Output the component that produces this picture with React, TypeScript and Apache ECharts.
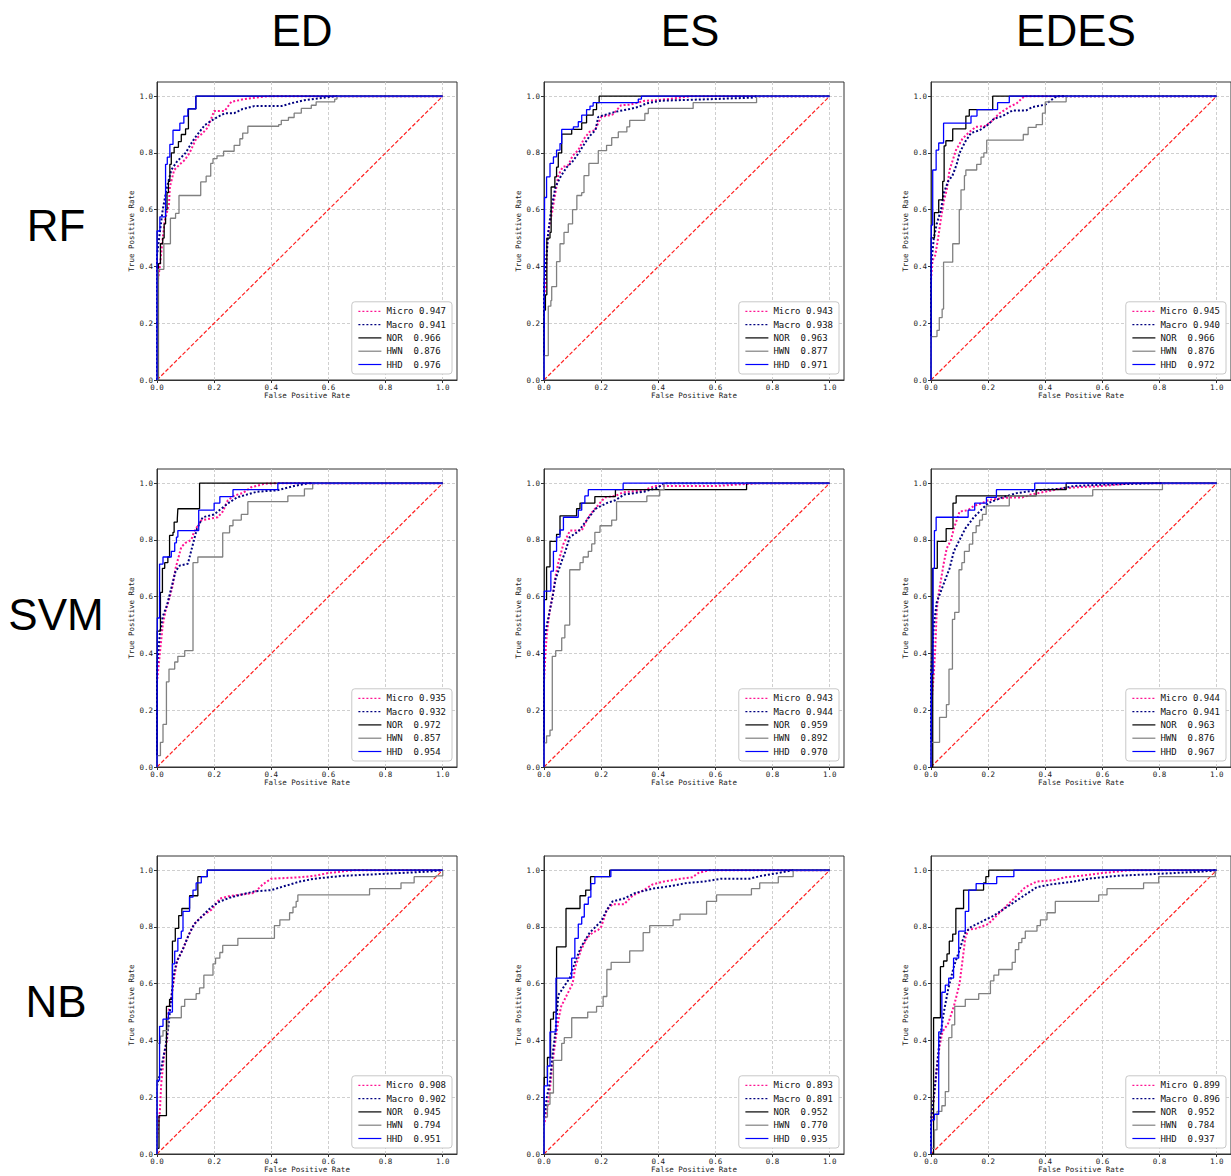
import React, { useEffect, useRef } from "react";
import * as echarts from "echarts";

// ---------- labels ----------
const COLS = ["ED", "ES", "EDES"];
const ROWS = ["RF", "SVM", "NB"];
const CLASSES = ["Micro", "Macro", "NOR", "HWN", "HHD"];
const TICKS = [0, 0.2, 0.4, 0.6, 0.8, 1.0];
const DIAG = [[0, 0], [1, 1]];

// ---------- AUC values (Micro, Macro, NOR, HWN, HHD) ----------
const AUC_RF_ED = [0.947, 0.941, 0.966, 0.876, 0.976];
const AUC_RF_ES = [0.943, 0.938, 0.963, 0.877, 0.971];
const AUC_RF_EDES = [0.945, 0.940, 0.966, 0.876, 0.972];
const AUC_SVM_ED = [0.935, 0.932, 0.972, 0.857, 0.954];
const AUC_SVM_ES = [0.943, 0.944, 0.959, 0.892, 0.970];
const AUC_SVM_EDES = [0.944, 0.941, 0.963, 0.876, 0.967];
const AUC_NB_ED = [0.908, 0.902, 0.945, 0.794, 0.951];
const AUC_NB_ES = [0.893, 0.891, 0.952, 0.770, 0.935];
const AUC_NB_EDES = [0.899, 0.896, 0.952, 0.784, 0.937];

// ---------- ROC curves: [FPR, TPR] ----------
// RF - ED
const RF_ED_MICRO = [[0,0],[0,0.33],[0.01,0.4],[0.02,0.5],[0.027,0.56],[0.042,0.62],[0.045,0.68],[0.06,0.74],[0.08,0.76],[0.097,0.775],[0.114,0.8],[0.137,0.85],[0.16,0.87],[0.178,0.89],[0.2,0.948],[0.237,0.948],[0.26,0.98],[0.306,0.99],[0.39,1],[1,1]];
const RF_ED_MACRO = [[0,0],[0,0.44],[0.01,0.52],[0.02,0.6],[0.035,0.68],[0.05,0.74],[0.07,0.77],[0.1,0.8],[0.13,0.85],[0.167,0.898],[0.2,0.92],[0.237,0.94],[0.27,0.94],[0.3,0.955],[0.34,0.965],[0.435,0.965],[0.47,0.975],[0.516,0.986],[0.61,0.998],[0.63,1],[1,1]];
const RF_ED_NOR = [[0,0],[0.005,0.41],[0.012,0.48],[0.02,0.5],[0.025,0.55],[0.03,0.6],[0.035,0.66],[0.04,0.7],[0.045,0.76],[0.05,0.8],[0.06,0.82],[0.075,0.84],[0.085,0.865],[0.1,0.885],[0.11,0.955],[0.136,1],[1,1]];
const RF_ED_HWN = [[0,0],[0.004,0.39],[0.024,0.48],[0.047,0.57],[0.065,0.587],[0.077,0.65],[0.153,0.698],[0.172,0.718],[0.188,0.763],[0.196,0.78],[0.21,0.79],[0.233,0.806],[0.27,0.827],[0.29,0.85],[0.3,0.87],[0.318,0.894],[0.426,0.9],[0.435,0.915],[0.46,0.925],[0.48,0.94],[0.505,0.957],[0.54,0.968],[0.557,0.98],[0.622,0.99],[0.63,1],[1,1]];
const RF_ED_HHD = [[0,0],[0,0.525],[0.01,0.575],[0.03,0.76],[0.036,0.785],[0.045,0.83],[0.056,0.88],[0.08,0.905],[0.094,0.93],[0.108,0.955],[0.136,1],[1,1]];
// RF - ES
const RF_ES_MICRO = [[0,0],[0,0.28],[0.005,0.33],[0.012,0.5],[0.02,0.55],[0.03,0.6],[0.04,0.66],[0.05,0.72],[0.065,0.75],[0.085,0.757],[0.1,0.79],[0.12,0.81],[0.14,0.85],[0.16,0.875],[0.178,0.88],[0.2,0.927],[0.24,0.935],[0.27,0.968],[0.3,0.97],[0.353,0.984],[0.4,0.986],[0.516,1],[1,1]];
const RF_ES_MACRO = [[0,0],[0,0.33],[0.01,0.45],[0.015,0.52],[0.025,0.6],[0.04,0.68],[0.06,0.72],[0.08,0.75],[0.1,0.77],[0.12,0.798],[0.14,0.83],[0.16,0.86],[0.18,0.88],[0.19,0.927],[0.25,0.945],[0.3,0.955],[0.33,0.962],[0.36,0.975],[0.41,0.984],[0.6,0.99],[0.73,0.995],[0.744,1],[1,1]];
const RF_ES_NOR = [[0,0],[0,0.246],[0.005,0.3],[0.01,0.5],[0.021,0.52],[0.025,0.68],[0.038,0.716],[0.044,0.75],[0.05,0.8],[0.062,0.866],[0.097,0.883],[0.132,0.906],[0.149,0.933],[0.172,0.953],[0.184,0.977],[0.193,1],[1,1]];
const RF_ES_HWN = [[0,0],[0.001,0.086],[0.015,0.26],[0.024,0.28],[0.027,0.329],[0.044,0.417],[0.056,0.48],[0.07,0.52],[0.085,0.55],[0.1,0.6],[0.115,0.65],[0.132,0.66],[0.14,0.72],[0.157,0.763],[0.19,0.808],[0.219,0.827],[0.237,0.854],[0.26,0.874],[0.29,0.892],[0.3,0.915],[0.353,0.939],[0.365,0.957],[0.522,0.977],[0.744,1],[1,1]];
const RF_ES_HHD = [[0,0],[0.002,0.643],[0.009,0.716],[0.021,0.763],[0.033,0.786],[0.044,0.81],[0.056,0.833],[0.062,0.883],[0.103,0.892],[0.12,0.91],[0.132,0.933],[0.149,0.953],[0.161,0.965],[0.172,0.977],[0.318,0.977],[0.33,0.99],[0.341,1],[1,1]];
// RF - EDES
const RF_EDES_MICRO = [[0,0],[0,0.35],[0.005,0.42],[0.015,0.44],[0.025,0.5],[0.035,0.57],[0.045,0.63],[0.055,0.67],[0.065,0.74],[0.0875,0.81],[0.11,0.85],[0.13,0.87],[0.157,0.892],[0.19,0.895],[0.21,0.91],[0.239,0.939],[0.274,0.962],[0.3,0.975],[0.327,1],[1,1]];
const RF_EDES_MACRO = [[0,0],[0,0.4],[0.01,0.5],[0.02,0.55],[0.035,0.6],[0.045,0.66],[0.06,0.7],[0.075,0.72],[0.09,0.76],[0.1,0.8],[0.12,0.84],[0.14,0.87],[0.17,0.88],[0.2,0.9],[0.22,0.92],[0.25,0.93],[0.286,0.95],[0.333,0.95],[0.356,0.962],[0.4,0.97],[0.42,0.986],[0.44,1],[1,1]];
const RF_EDES_NOR = [[0,0],[0.001,0.501],[0.012,0.59],[0.027,0.635],[0.041,0.7],[0.046,0.825],[0.052,0.843],[0.076,0.885],[0.122,0.93],[0.134,0.953],[0.216,1],[1,1]];
const RF_EDES_HWN = [[0,0],[0,0.153],[0.021,0.175],[0.029,0.22],[0.039,0.25],[0.044,0.415],[0.076,0.48],[0.099,0.6],[0.105,0.67],[0.117,0.72],[0.122,0.74],[0.16,0.76],[0.175,0.785],[0.185,0.8],[0.195,0.845],[0.323,0.865],[0.34,0.89],[0.368,0.9],[0.39,0.94],[0.4,0.98],[0.473,1],[1,1]];
const RF_EDES_HHD = [[0,0],[0.001,0.546],[0.006,0.74],[0.018,0.81],[0.027,0.835],[0.044,0.905],[0.14,0.93],[0.161,0.953],[0.233,0.977],[0.274,1],[1,1]];
// SVM - ED
const SVM_ED_MICRO = [[0,0],[0,0.3],[0.01,0.4],[0.02,0.5],[0.03,0.55],[0.045,0.6],[0.055,0.64],[0.065,0.7],[0.085,0.775],[0.1,0.79],[0.12,0.8],[0.13,0.83],[0.155,0.869],[0.213,0.88],[0.23,0.9],[0.248,0.94],[0.272,0.957],[0.3,0.965],[0.33,0.986],[0.376,0.998],[0.42,1],[1,1]];
const SVM_ED_MACRO = [[0,0],[0,0.35],[0.01,0.47],[0.02,0.53],[0.035,0.57],[0.05,0.63],[0.065,0.69],[0.08,0.71],[0.108,0.716],[0.12,0.763],[0.14,0.84],[0.16,0.88],[0.2,0.89],[0.25,0.93],[0.28,0.95],[0.35,0.97],[0.42,0.975],[0.48,0.99],[0.53,1],[1,1]];
const SVM_ED_NOR = [[0,0],[0.001,0.479],[0.012,0.615],[0.019,0.7],[0.027,0.72],[0.038,0.74],[0.044,0.816],[0.056,0.827],[0.06,0.863],[0.071,0.874],[0.073,0.91],[0.149,1],[1,1]];
const SVM_ED_HWN = [[0,0],[0,0.04],[0.012,0.087],[0.021,0.15],[0.033,0.3],[0.042,0.345],[0.062,0.37],[0.073,0.39],[0.097,0.41],[0.126,0.72],[0.143,0.74],[0.23,0.825],[0.254,0.85],[0.266,0.87],[0.295,0.89],[0.318,0.935],[0.458,0.955],[0.516,0.98],[0.545,1],[1,1]];
const SVM_ED_HHD = [[0,0],[0.001,0.525],[0.009,0.715],[0.021,0.74],[0.05,0.76],[0.062,0.79],[0.068,0.81],[0.073,0.833],[0.146,0.905],[0.2,0.93],[0.22,0.953],[0.266,0.977],[0.423,1],[1,1]];
// SVM - ES
const SVM_ES_MICRO = [[0,0],[0,0.3],[0.005,0.4],[0.01,0.47],[0.02,0.55],[0.03,0.6],[0.04,0.67],[0.05,0.72],[0.068,0.786],[0.091,0.833],[0.132,0.833],[0.155,0.88],[0.17,0.9],[0.213,0.95],[0.25,0.955],[0.277,0.968],[0.35,0.975],[0.388,0.99],[0.6,0.99],[0.75,1],[1,1]];
const SVM_ES_MACRO = [[0,0],[0,0.44],[0.01,0.5],[0.02,0.55],[0.03,0.6],[0.04,0.66],[0.06,0.72],[0.075,0.76],[0.09,0.81],[0.12,0.83],[0.15,0.87],[0.18,0.91],[0.22,0.93],[0.25,0.94],[0.28,0.96],[0.35,0.97],[0.4,0.985],[0.42,1],[1,1]];
const SVM_ES_NOR = [[0,0],[0.001,0.59],[0.009,0.705],[0.021,0.795],[0.044,0.82],[0.056,0.885],[0.114,0.91],[0.126,0.93],[0.178,0.953],[0.25,0.977],[0.709,1],[1,1]];
const SVM_ES_HWN = [[0,0],[0.001,0.085],[0.009,0.11],[0.021,0.13],[0.029,0.39],[0.041,0.41],[0.062,0.455],[0.073,0.5],[0.09,0.695],[0.126,0.72],[0.137,0.74],[0.155,0.76],[0.167,0.786],[0.178,0.827],[0.196,0.85],[0.237,0.87],[0.254,0.935],[0.36,0.955],[0.405,0.977],[0.42,1],[1,1]];
const SVM_ES_HHD = [[0,0],[0.001,0.62],[0.024,0.69],[0.033,0.76],[0.044,0.81],[0.056,0.835],[0.068,0.88],[0.12,0.905],[0.132,0.93],[0.143,0.955],[0.155,0.977],[0.277,1],[1,1]];
// SVM - EDES
const SVM_EDES_MICRO = [[0,0],[0,0.2],[0.01,0.33],[0.015,0.42],[0.02,0.55],[0.025,0.6],[0.035,0.66],[0.045,0.72],[0.055,0.77],[0.07,0.8],[0.08,0.84],[0.1,0.9],[0.13,0.905],[0.15,0.92],[0.18,0.93],[0.2,0.94],[0.23,0.945],[0.28,0.95],[0.32,0.95],[0.35,0.96],[0.4,0.97],[0.45,0.98],[0.5,0.985],[0.6,0.99],[0.7,1],[1,1]];
const SVM_EDES_MACRO = [[0,0],[0,0.33],[0.01,0.5],[0.02,0.58],[0.035,0.62],[0.05,0.66],[0.065,0.7],[0.08,0.76],[0.1,0.8],[0.12,0.84],[0.15,0.88],[0.18,0.91],[0.2,0.93],[0.25,0.95],[0.3,0.965],[0.37,0.975],[0.45,0.98],[0.5,0.99],[0.6,0.995],[0.8,1],[1,1]];
const SVM_EDES_NOR = [[0,0],[0.006,0.7],[0.022,0.795],[0.053,0.84],[0.077,0.93],[0.088,0.955],[0.368,0.977],[0.473,1],[1,1]];
const SVM_EDES_HWN = [[0,0],[0,0.087],[0.03,0.175],[0.054,0.22],[0.063,0.345],[0.075,0.52],[0.083,0.545],[0.098,0.695],[0.108,0.72],[0.117,0.76],[0.134,0.785],[0.146,0.826],[0.158,0.85],[0.17,0.87],[0.18,0.89],[0.193,0.92],[0.274,0.955],[0.566,0.977],[0.81,1],[1,1]];
const SVM_EDES_HHD = [[0,0],[0.002,0.33],[0.007,0.7],[0.012,0.833],[0.018,0.88],[0.13,0.905],[0.153,0.93],[0.194,0.95],[0.229,0.977],[0.363,1],[1,1]];
// NB - ED
const NB_ED_MICRO = [[0,0],[0,0.05],[0.01,0.15],[0.015,0.25],[0.025,0.35],[0.035,0.4],[0.04,0.5],[0.05,0.55],[0.06,0.62],[0.07,0.68],[0.09,0.72],[0.11,0.77],[0.13,0.81],[0.16,0.84],[0.19,0.86],[0.22,0.9],[0.26,0.91],[0.3,0.915],[0.34,0.92],[0.37,0.95],[0.4,0.97],[0.5,0.975],[0.55,0.98],[0.6,0.99],[0.69,1],[1,1]];
const NB_ED_MACRO = [[0,0],[0,0.24],[0.01,0.28],[0.02,0.33],[0.03,0.38],[0.04,0.45],[0.05,0.55],[0.06,0.64],[0.07,0.68],[0.09,0.72],[0.11,0.77],[0.13,0.81],[0.16,0.84],[0.19,0.87],[0.22,0.89],[0.26,0.905],[0.3,0.915],[0.34,0.925],[0.4,0.93],[0.45,0.945],[0.5,0.96],[0.55,0.97],[0.65,0.98],[0.75,0.985],[0.85,0.99],[0.95,0.995],[1,1]];
const NB_ED_NOR = [[0,0],[0,0.02],[0.007,0.135],[0.033,0.52],[0.044,0.545],[0.054,0.75],[0.064,0.795],[0.076,0.84],[0.087,0.865],[0.114,0.91],[0.143,0.977],[0.176,1],[1,1]];
const NB_ED_HWN = [[0,0],[0,0.39],[0.012,0.415],[0.021,0.435],[0.038,0.48],[0.085,0.52],[0.097,0.545],[0.137,0.565],[0.149,0.585],[0.164,0.63],[0.196,0.67],[0.205,0.69],[0.22,0.71],[0.23,0.735],[0.283,0.76],[0.411,0.805],[0.43,0.825],[0.464,0.85],[0.476,0.87],[0.487,0.89],[0.493,0.913],[0.744,0.935],[0.854,0.955],[0.9,0.977],[0.977,0.98],[1,1]];
const NB_ED_HHD = [[0,0],[0,0.26],[0.009,0.45],[0.021,0.475],[0.04,0.5],[0.054,0.67],[0.062,0.715],[0.073,0.76],[0.085,0.785],[0.091,0.855],[0.114,0.905],[0.126,0.93],[0.137,0.955],[0.155,0.977],[0.176,1],[1,1]];
// NB - ES
const NB_ES_MICRO = [[0,0],[0,0.1],[0.01,0.15],[0.02,0.22],[0.03,0.32],[0.04,0.4],[0.05,0.47],[0.06,0.52],[0.08,0.56],[0.1,0.6],[0.11,0.66],[0.13,0.72],[0.15,0.76],[0.17,0.78],[0.19,0.79],[0.2,0.8],[0.22,0.86],[0.24,0.88],[0.28,0.88],[0.31,0.91],[0.35,0.93],[0.38,0.95],[0.42,0.96],[0.48,0.97],[0.52,0.975],[0.54,0.99],[0.58,1],[1,1]];
const NB_ES_MACRO = [[0,0],[0,0.12],[0.01,0.2],[0.02,0.25],[0.03,0.35],[0.04,0.43],[0.05,0.56],[0.07,0.59],[0.09,0.62],[0.11,0.68],[0.13,0.73],[0.16,0.78],[0.2,0.82],[0.22,0.86],[0.24,0.89],[0.28,0.9],[0.32,0.92],[0.38,0.935],[0.45,0.945],[0.5,0.955],[0.56,0.96],[0.62,0.97],[0.72,0.97],[0.76,0.98],[0.82,0.99],[0.87,1],[1,1]];
const NB_ES_NOR = [[0,0],[0.001,0.27],[0.012,0.34],[0.023,0.475],[0.033,0.5],[0.044,0.73],[0.077,0.865],[0.126,0.91],[0.146,0.93],[0.163,0.977],[0.23,1],[1,1]];
const NB_ES_HWN = [[0,0],[0.001,0.13],[0.012,0.175],[0.021,0.215],[0.033,0.33],[0.062,0.39],[0.071,0.41],[0.097,0.48],[0.153,0.5],[0.184,0.52],[0.207,0.555],[0.22,0.65],[0.235,0.675],[0.3,0.716],[0.347,0.78],[0.37,0.805],[0.452,0.825],[0.476,0.845],[0.569,0.89],[0.604,0.913],[0.726,0.935],[0.755,0.955],[0.82,0.977],[0.872,1],[1,1]];
const NB_ES_HHD = [[0,0],[0.001,0.24],[0.012,0.31],[0.021,0.43],[0.042,0.62],[0.097,0.69],[0.108,0.76],[0.12,0.81],[0.132,0.835],[0.141,0.88],[0.155,0.905],[0.164,0.953],[0.178,0.977],[0.234,1],[1,1]];
// NB - EDES
const NB_EDES_MICRO = [[0,0],[0,0.1],[0.01,0.2],[0.02,0.3],[0.03,0.38],[0.04,0.43],[0.06,0.46],[0.08,0.52],[0.1,0.6],[0.11,0.68],[0.12,0.76],[0.13,0.79],[0.16,0.795],[0.2,0.81],[0.22,0.83],[0.25,0.86],[0.28,0.89],[0.31,0.92],[0.33,0.94],[0.37,0.96],[0.43,0.965],[0.47,0.975],[0.52,0.98],[0.6,0.99],[0.7,1],[1,1]];
const NB_EDES_MACRO = [[0,0],[0,0.12],[0.01,0.2],[0.02,0.3],[0.03,0.4],[0.045,0.5],[0.06,0.58],[0.08,0.66],[0.1,0.72],[0.12,0.78],[0.14,0.8],[0.18,0.82],[0.22,0.84],[0.25,0.86],[0.28,0.88],[0.31,0.9],[0.34,0.92],[0.37,0.94],[0.42,0.95],[0.5,0.96],[0.55,0.97],[0.65,0.98],[0.75,0.985],[0.85,0.99],[0.95,0.995],[1,1]];
const NB_EDES_NOR = [[0,0],[0.009,0.48],[0.033,0.66],[0.044,0.68],[0.056,0.705],[0.064,0.75],[0.076,0.775],[0.087,0.865],[0.114,0.93],[0.184,0.955],[0.192,0.977],[0.202,1],[1,1]];
const NB_EDES_HWN = [[0,0],[0,0.02],[0.012,0.085],[0.021,0.15],[0.038,0.17],[0.05,0.22],[0.062,0.41],[0.073,0.455],[0.083,0.52],[0.12,0.545],[0.167,0.565],[0.208,0.61],[0.22,0.63],[0.237,0.65],[0.284,0.675],[0.295,0.72],[0.307,0.745],[0.318,0.76],[0.33,0.785],[0.371,0.805],[0.383,0.825],[0.406,0.85],[0.435,0.89],[0.587,0.913],[0.616,0.935],[0.744,0.955],[0.797,0.977],[0.995,1],[1,1]];
const NB_EDES_HHD = [[0,0],[0.001,0.12],[0.012,0.14],[0.027,0.43],[0.038,0.57],[0.05,0.595],[0.062,0.62],[0.079,0.69],[0.097,0.785],[0.12,0.855],[0.132,0.93],[0.158,0.953],[0.23,0.977],[0.29,1],[1,1]];

const PANELS = [
  { auc: AUC_RF_ED, curves: [RF_ED_MICRO, RF_ED_MACRO, RF_ED_NOR, RF_ED_HWN, RF_ED_HHD] },
  { auc: AUC_RF_ES, curves: [RF_ES_MICRO, RF_ES_MACRO, RF_ES_NOR, RF_ES_HWN, RF_ES_HHD] },
  { auc: AUC_RF_EDES, curves: [RF_EDES_MICRO, RF_EDES_MACRO, RF_EDES_NOR, RF_EDES_HWN, RF_EDES_HHD] },
  { auc: AUC_SVM_ED, curves: [SVM_ED_MICRO, SVM_ED_MACRO, SVM_ED_NOR, SVM_ED_HWN, SVM_ED_HHD] },
  { auc: AUC_SVM_ES, curves: [SVM_ES_MICRO, SVM_ES_MACRO, SVM_ES_NOR, SVM_ES_HWN, SVM_ES_HHD] },
  { auc: AUC_SVM_EDES, curves: [SVM_EDES_MICRO, SVM_EDES_MACRO, SVM_EDES_NOR, SVM_EDES_HWN, SVM_EDES_HHD] },
  { auc: AUC_NB_ED, curves: [NB_ED_MICRO, NB_ED_MACRO, NB_ED_NOR, NB_ED_HWN, NB_ED_HHD] },
  { auc: AUC_NB_ES, curves: [NB_ES_MICRO, NB_ES_MACRO, NB_ES_NOR, NB_ES_HWN, NB_ES_HHD] },
  { auc: AUC_NB_EDES, curves: [NB_EDES_MICRO, NB_EDES_MACRO, NB_EDES_NOR, NB_EDES_HWN, NB_EDES_HHD] },
];

// ---------- styles ----------
const W = 1231;
const H = 1176;
const GRID_LEFT0 = 157;
const GRID_TOP0 = 82;
const STEP = 387;
const GRID_W = 300;
const GRID_H = 298;
const MONO = "'DejaVu Sans Mono', 'Liberation Mono', monospace";
const SANS = "'Liberation Sans', Arial, sans-serif";
const CLASS_STYLE = [
  { color: "#ff1493", width: 2, type: [2, 2] },
  { color: "#000080", width: 2, type: [2, 2] },
  { color: "#000000", width: 1.3, type: "solid" },
  { color: "#808080", width: 1.3, type: "solid" },
  { color: "#0000ff", width: 1.3, type: "solid" },
];
const CHAR_W = 5.42;

function makeLabel(cls: string, auc: number) {
  return cls + (cls.length === 5 ? " " : "  ") + auc.toFixed(3);
}

export default function App() {
  const ref = useRef<HTMLDivElement>(null);

  useEffect(() => {
    if (!ref.current) return;
    const chart = echarts.init(ref.current, null, { renderer: "svg", width: W, height: H });

    const grids: any[] = [];
    const xAxes: any[] = [];
    const yAxes: any[] = [];
    const series: any[] = [];
    const legends: any[] = [];

    const axisCommon = {
      type: "value",
      min: 0,
      max: 1.05,
      interval: 0.2,
      nameLocation: "middle",
      nameTextStyle: { fontSize: 7.5, fontFamily: MONO, color: "#222" },
      axisLine: { show: true, lineStyle: { color: "#333", width: 1 } },
      axisTick: { show: true, length: 3, inside: false, customValues: TICKS, lineStyle: { color: "#333" } },
      splitLine: { show: true, lineStyle: { color: "#cfcfcf", width: 1, type: [3, 2] } },
    };

    PANELS.forEach((p, i) => {
      const r = Math.floor(i / 3);
      const c = i % 3;
      const left = GRID_LEFT0 + c * STEP;
      const top = GRID_TOP0 + r * STEP;
      grids.push({
        left,
        top,
        width: GRID_W,
        height: GRID_H,
        show: true,
        borderColor: "#333",
        borderWidth: 1,
        backgroundColor: "rgba(0,0,0,0)",
      });
      xAxes.push({
        ...axisCommon,
        gridIndex: i,
        name: "False Positive Rate",
        nameGap: 11,
        axisLabel: {
          customValues: TICKS,
          formatter: (v: number) => v.toFixed(1),
          fontSize: 7.5,
          fontFamily: MONO,
          color: "#222",
          margin: 3,
        },
      });
      yAxes.push({
        ...axisCommon,
        gridIndex: i,
        name: "True Positive Rate",
        nameGap: 17,
        axisLabel: {
          customValues: TICKS,
          formatter: (v: number) => v.toFixed(1),
          fontSize: 7.5,
          fontFamily: MONO,
          color: "#222",
          margin: 4,
        },
      });
      const names: string[] = [];
      series.push({
        type: "line",
        name: "chance" + i,
        xAxisIndex: i,
        yAxisIndex: i,
        data: DIAG,
        color: "#ff2020",
        symbol: "none",
        showSymbol: false,
        silent: true,
        itemStyle: { color: "#ff2020" },
        lineStyle: { color: "#ff2020", width: 1.2, type: [4, 2] },
        emphasis: { disabled: true },
        z: 2,
      });
      CLASSES.forEach((cls, k) => {
        const name = makeLabel(cls, p.auc[k]);
        names.push(name);
        const st = CLASS_STYLE[k];
        series.push({
          type: "line",
          name,
          xAxisIndex: i,
          yAxisIndex: i,
          data: p.curves[k],
          step: k >= 2 ? "end" : false,
          color: st.color,
          symbol: "none",
          showSymbol: false,
          silent: true,
          lineStyle: { color: st.color, width: st.width, type: st.type },
          itemStyle: { color: st.color },
          emphasis: { disabled: true },
          z: 3 + k,
        });
      });
      legends.push({
        data: names,
        orient: "vertical",
        right: W - (left + GRID_W - 5),
        bottom: H - (top + GRID_H - 6),
        itemWidth: 23,
        itemHeight: 10,
        itemGap: 4.3,
        padding: [5, 6, 5, 6],
        selectedMode: false,
        backgroundColor: "#ffffff",
        borderColor: "#c8c8c8",
        borderWidth: 1,
        borderRadius: 3,
        z: 20,
        itemStyle: { opacity: 0, borderWidth: 0 },
        lineStyle: { width: 1.2 },
        formatter: (name: string) => {
          const parts = name.split(/\s+/);
          const key = parts[0].length === 5 ? "n6" : "n5";
          return `{${key}|${parts[0]}}{v|${parts[1]}}`;
        },
        textStyle: {
          fontFamily: MONO,
          fontSize: 9,
          color: "#111",
          rich: {
            n6: { width: CHAR_W * 6, fontFamily: MONO, fontSize: 9, color: "#111" },
            n5: { width: CHAR_W * 5, fontFamily: MONO, fontSize: 9, color: "#111" },
            v: { fontFamily: MONO, fontSize: 9, color: "#111" },
          },
        },
      });
    });

    const titleGraphics: any[] = [];
    const colX = [302, 690, 1076];
    const rowY = [225, 614, 1001];
    COLS.forEach((t, i) => {
      titleGraphics.push({
        type: "text",
        x: colX[i],
        y: 30,
        style: { text: t, font: `44px ${SANS}`, fill: "#000", textAlign: "center", textVerticalAlign: "middle" },
      });
    });
    ROWS.forEach((t, i) => {
      titleGraphics.push({
        type: "text",
        x: 56,
        y: rowY[i],
        style: { text: t, font: `44px ${SANS}`, fill: "#000", textAlign: "center", textVerticalAlign: "middle" },
      });
    });

    chart.setOption({
      animation: false,
      backgroundColor: "#ffffff",
      grid: grids,
      xAxis: xAxes,
      yAxis: yAxes,
      legend: legends,
      series,
      graphic: titleGraphics,
    });

    return () => chart.dispose();
  }, []);

  return (
    <div
      ref={ref}
      style={{ position: "fixed", left: 0, top: 0, width: W, height: H, background: "#fff" }}
    />
  );
}
